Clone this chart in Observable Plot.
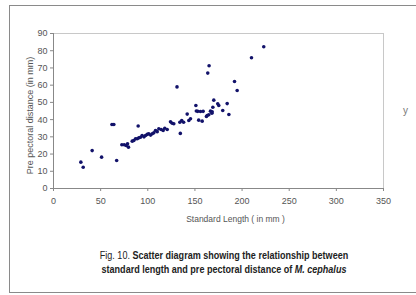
<!DOCTYPE html>
<html>
<head>
<meta charset="utf-8">
<script src="https://cdn.jsdelivr.net/npm/d3@7"></script>
<script src="https://cdn.jsdelivr.net/npm/@observablehq/plot@0.6"></script>
<style>
  html, body { margin: 0; padding: 0; background: #fff; }
  #wrap { position: relative; width: 416px; height: 295px; overflow: hidden; font-family: "Liberation Sans", Arial, sans-serif; }
  #border { position: absolute; left: 9px; top: 5px; width: 420px; height: 288px; border: 1px solid #8a8a8a; box-sizing: border-box; }
  #chart { position: absolute; left: 0; top: 0; }
  .cap { position: absolute; left: 24px; width: 400px; text-align: center; font-size: 10.5px; line-height: 13px; color: #222; white-space: nowrap; transform: scaleX(0.86); transform-origin: 200px 0; }
  .fig { font-weight: normal; }
  .b { font-weight: bold; }
  #ylab { position: absolute; left: 403px; top: 105px; font-size: 10px; color: #777; }
</style>
</head>
<body>
<div id="wrap">
  <div id="border"></div>
  <div id="chart"></div>
  <div id="ylab">y</div>
  <div class="cap" style="top:249px"><span class="fig">Fig. 10.</span> <span class="b">Scatter diagram showing the relationship between</span></div>
  <div class="cap" style="top:263px"><span class="b">standard length and pre pectoral distance of <i>M. cephalus</i></span></div>
</div>
<script>
const standardLength = [29,31.5,41,51,62,64,67,72.5,75,77,78.5,79.5,83.5,85.2,87,88.8,89.8,90.5,92.3,94,96,97.6,99.4,101,103,104.7,106.4,108.2,110,111.7,114.2,116.3,118,120.6,124.1,125.9,127.6,131,134.5,134,136,138,141.8,143.5,145.3,151,151.5,153,155.9,158.7,154,157.7,162.2,164.7,163.6,165,166.5,168.3,169,170,174.2,175.3,179.5,184.2,186,192,194.8,210,223,163,168];
const prePectoral = [15.3,12.3,22,18.2,37.2,37.2,16.3,25.4,25.4,25,26,24,27.5,27.9,28.9,28.9,36.3,29.4,29.8,30.8,30,30.8,31.4,31.8,31,31.8,32.3,33.7,33,34.7,34.3,33.7,35,34.3,38.7,37.9,37.6,59,32,38.5,39.5,38.5,43.2,39.5,40.5,48.2,45,44.8,44.7,44.8,39.7,39.1,41.8,42.8,67,71.3,44.9,44.5,47.2,51.3,49.2,48.2,45.3,49.3,43,62.1,56.9,75.9,82.3,42.4,43.7];
const xTicks = [0,50,100,150,200,250,300,350];
const yTicks = [0,10,20,30,40,50,60,70,80,90];
const xTitle = "Standard Length ( in mm )";
const yTitle = "Pre pectoral distance (in mm)";

const data = standardLength.map((x, i) => ({x, y: prePectoral[i]}));

const chart = Plot.plot({
  width: 416,
  height: 295,
  marginLeft: 53,
  marginTop: 33,
  marginRight: 33,
  marginBottom: 107,
  style: {fontFamily: '"Liberation Sans", Arial, sans-serif', fontSize: "9px", color: "#555", background: "transparent"},
  x: {domain: [0, 350]},
  y: {domain: [0, 90]},
  marks: [
    Plot.frame({stroke: "#c8c8c8"}),
    Plot.ruleX([0], {stroke: "#888"}),
    Plot.ruleY([0], {stroke: "#888"}),
    Plot.axisX({ticks: xTicks, tickSize: 3, tickPadding: 6, stroke: "#888", label: null, fontSize: 9}),
    Plot.axisY({ticks: yTicks, tickSize: 3, tickPadding: 3, stroke: "#888", label: null, fontSize: 9}),
    Plot.text([xTitle], {frameAnchor: "bottom", dx: 17, dy: 33, fontSize: 8.5, fill: "#555"}),
    Plot.text([yTitle], {frameAnchor: "left", textAnchor: "middle", rotate: -90, dx: -23, dy: 4.5, fontSize: 9, fill: "#555"}),
    Plot.dot(data, {x: "x", y: "y", r: 1.8, fill: "#12126a", stroke: "none"})
  ]
});
document.getElementById("chart").appendChild(chart);
</script>
</body>
</html>
